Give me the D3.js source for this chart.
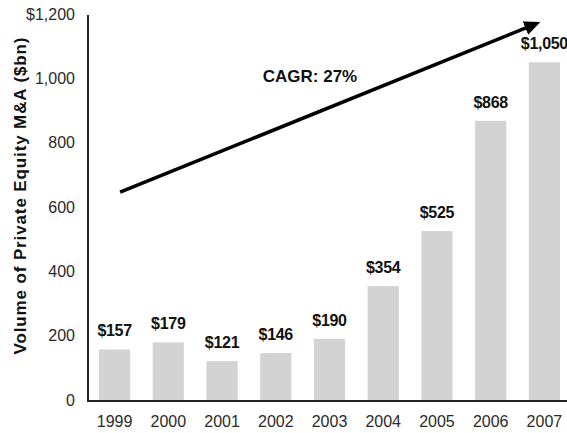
<!DOCTYPE html>
<html><head><meta charset="utf-8">
<script src="https://cdn.jsdelivr.net/npm/d3@7"></script>
<style>body{margin:0;background:#fff}svg{display:block}text{font-family:"Liberation Sans",Arial,sans-serif}</style>
</head><body>
<svg id="c" width="567" height="433"></svg>
<script>
const years = ["1999","2000","2001","2002","2003","2004","2005","2006","2007"];
const volumes = [157,179,121,146,190,354,525,868,1050];
const valueLabels = ["$157","$179","$121","$146","$190","$354","$525","$868","$1,050"];
const yTicks = [0,200,400,600,800,1000,1200];
const yTickLabels = ["0","200","400","600","800","1,000","$1,200"];
const arrowFrom = {year:"1999", value:646};
const arrowTo = {year:"2007", value:1160};
const cagrText = "CAGR: 27%";
const yTitle = "Volume of Private Equity M&A ($bn)";

const svg = d3.select("#c");
const x = d3.scaleBand().domain(years).range([88,571]).paddingInner(0.42).paddingOuter(0.205);
const y = d3.scaleLinear().domain([0,1200]).range([400,14]);

svg.append("defs").append("marker").attr("id","ah").attr("viewBox","0 0 10 10")
  .attr("refX",2).attr("refY",5).attr("markerWidth",4.5).attr("markerHeight",4)
  .attr("orient","auto").attr("markerUnits","strokeWidth").attr("preserveAspectRatio","none")
  .append("path").attr("d","M0,0 L10,5 L0,10 Z").attr("fill","#000");

svg.selectAll("rect.bar").data(volumes).join("rect").attr("class","bar")
  .attr("x",(d,i)=>x(years[i])).attr("width",x.bandwidth())
  .attr("y",d=>y(d)).attr("height",d=>y(0)-y(d)).attr("fill","#d3d3d3");

svg.selectAll("text.val").data(volumes).join("text").attr("class","val")
  .attr("x",(d,i)=>x(years[i])+x.bandwidth()/2).attr("y",d=>y(d)-13)
  .attr("text-anchor","middle").attr("font-size",16).attr("font-weight","bold")
  .attr("letter-spacing",-0.3)
  .attr("fill","#111").text((d,i)=>valueLabels[i]);

// axes
const yAxis = d3.axisLeft(y).tickValues(yTicks).tickSize(0).tickPadding(13)
  .tickFormat((d,i)=>yTickLabels[i]);
const gy = svg.append("g").attr("transform","translate(88,0)").call(yAxis);
gy.select(".domain").attr("stroke","#222").attr("stroke-width",2).attr("d","M0,15V401");
gy.selectAll("text").attr("font-size",16).attr("fill","#2a2a2a").attr("font-family","Liberation Sans, Arial, sans-serif");

const xAxis = d3.axisBottom(x).tickSize(0).tickPadding(14.5);
const gx = svg.append("g").attr("transform","translate(0,401)").call(xAxis);
gx.select(".domain").attr("stroke","#222").attr("stroke-width",2).attr("d","M87,0H567");
gx.selectAll("text").attr("font-size",16).attr("fill","#2a2a2a").attr("font-family","Liberation Sans, Arial, sans-serif");

// arrow
const ax1 = x(arrowFrom.year)+x.bandwidth()/2+5.5, ay1 = y(arrowFrom.value);
const ax2 = x(arrowTo.year)+x.bandwidth()/2-16, ay2 = y(arrowTo.value);
svg.append("line").attr("x1",ax1).attr("y1",ay1).attr("x2",ax2).attr("y2",ay2)
  .attr("stroke","#000").attr("stroke-width",3.6).attr("marker-end","url(#ah)");

svg.append("text").attr("x",310).attr("y",82).attr("text-anchor","middle")
  .attr("font-size",17).attr("font-weight","bold").attr("fill","#111").text(cagrText);

svg.append("text").attr("transform","translate(26,196) rotate(-90)")
  .attr("text-anchor","middle").attr("font-size",17).attr("font-weight","bold")
  .attr("textLength",317).attr("lengthAdjust","spacing")
  .attr("fill","#111").text(yTitle);
</script>
</body></html>
